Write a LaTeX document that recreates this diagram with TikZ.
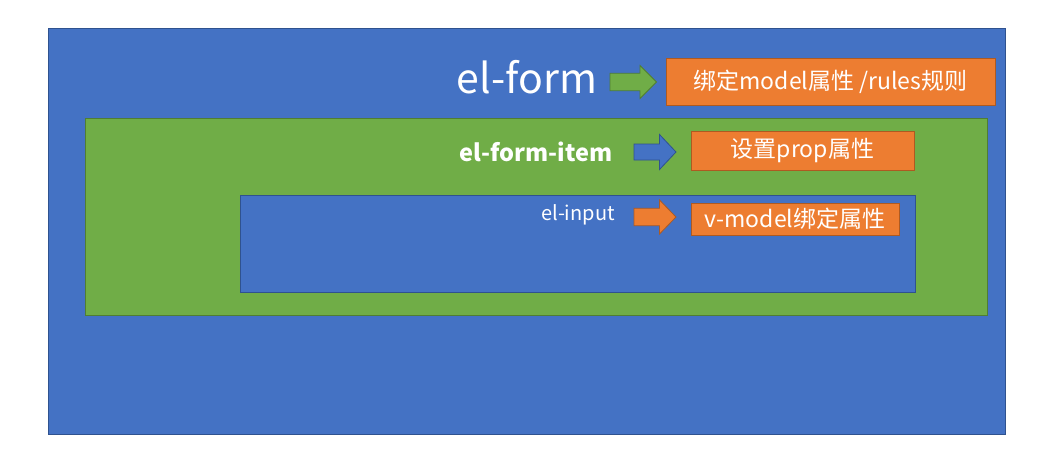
\documentclass[tikz,border=0pt]{standalone}
\usepackage{fontspec}
\setmainfont{Noto Sans CJK SC}
\definecolor{bluefill}{HTML}{4472C4}
\definecolor{blueedge}{HTML}{2F528F}
\definecolor{greenfill}{HTML}{70AD47}
\definecolor{greenedge}{HTML}{507E32}
\definecolor{orangefill}{HTML}{ED7D31}
\definecolor{orangeedge}{HTML}{AE5A21}
\tikzset{
  panel/.style={draw=#1edge, fill=#1fill, line width=0.8pt},
  tag/.style={draw=orangeedge, fill=orangefill, line width=0.8pt, text=white, inner sep=0pt},
  blockfill/.style={draw=#1edge, fill=#1fill, line width=0.8pt, line join=miter},
  caption/.style={text=white, inner sep=0pt, anchor=center}
}
% block arrow: #1 tail x, #2 head start x, #3 tip x, #4 axis y,
% #5 half shaft height, #6 half head height, #7 colour name
\newcommand\blockarrow[7]{%
  \draw[blockfill=#7] (#1,#4-#5) -- (#2,#4-#5) -- (#2,#4-#6) -- (#3,#4)
    -- (#2,#4+#6) -- (#2,#4+#5) -- (#1,#4+#5) -- cycle;}
\begin{document}
\begin{tikzpicture}[x=1pt, y=-1pt]
  \useasboundingbox[fill=white] (0,0) rectangle (1052,469);
  % nested containers
  \draw[panel=blue] (48,28) rectangle (1005,434);
  \draw[panel=green] (85,118) rectangle (987,315);
  \draw[panel=blue] (240,195) rectangle (915,292);

  % el-form row
  \node[caption, font=\fontsize{41}{44}\selectfont] (form) at (527,77) {el-form};
  \blockarrow{610}{640}{656.5}{82}{8.7}{16.5}{green}
  \node[tag, minimum width=329pt, minimum height=47pt, font=\fontsize{23}{26}\selectfont] (t1) at (830.5,81.5) {绑定model属性 /rules规则};

  % el-form-item row
  \node[caption, font=\fontsize{23.5}{26}\bfseries\selectfont] (item) at (536,152) {el-form-item};
  \blockarrow{634}{659.5}{676}{152}{8}{17.5}{blue}
  \node[tag, minimum width=223pt, minimum height=39pt, font=\fontsize{23}{26}\selectfont] (t2) at (802.5,150.5) {设置prop属性};

  % el-input row
  \node[caption, font=\fontsize{20}{23}\selectfont] (input) at (578,215) {el-input};
  \blockarrow{634}{659.5}{676}{217}{8.7}{17}{orange}
  \node[tag, minimum width=208pt, minimum height=32pt, font=\fontsize{23}{26}\selectfont] (t3) at (795,219) {v-model绑定属性};
\end{tikzpicture}
\end{document}
